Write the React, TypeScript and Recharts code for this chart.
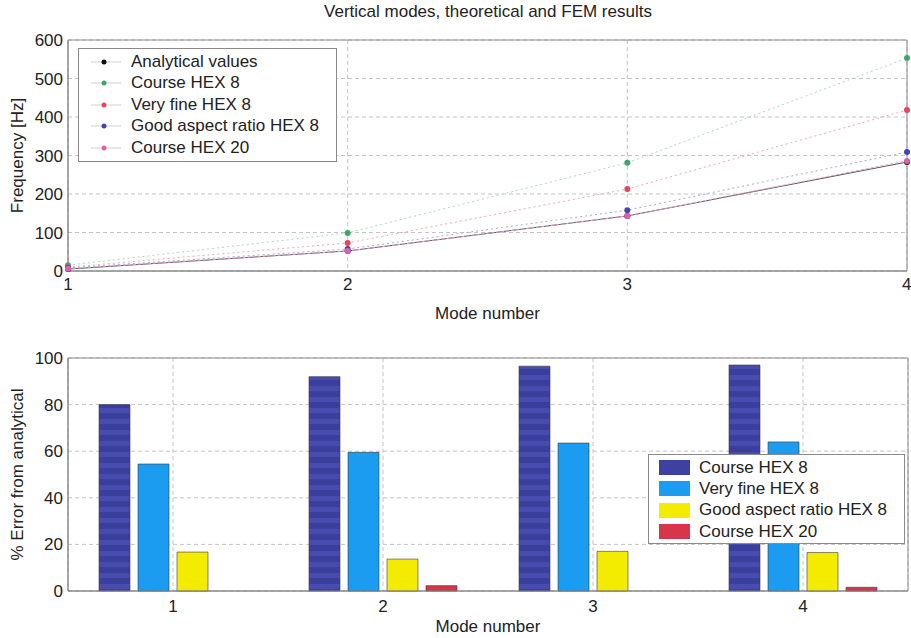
import {
  LineChart,
  Line,
  BarChart,
  Bar,
  XAxis,
  YAxis,
  CartesianGrid,
  Legend,
  ReferenceArea,
} from 'recharts';

const modes = [1, 2, 3, 4];
const modeLabels = ['1', '2', '3', '4'];

// top plot: frequencies in Hz
const analytical = [5, 52, 143, 283];
const courseHex8 = [15, 99, 281, 553];
const veryFineHex8 = [10, 73, 213, 418];
const goodAspectHex8 = [8, 57, 158, 309];
const courseHex20 = [6, 52, 143, 286];

const freqTicks = [0, 100, 200, 300, 400, 500, 600];

// bottom plot: % error from analytical
const courseHex8Err = [80, 92, 96.5, 97];
const veryFineHex8Err = [54.5, 59.5, 63.5, 64];
const goodAspectHex8Err = [16.7, 13.7, 17, 16.5];
const courseHex20Err = [0, 2.3, 0, 1.6];

const errTicks = [0, 20, 40, 60, 80, 100];

const FONT = '"Liberation Sans", Arial, sans-serif';
const FS = 17;
const TEXT = '#222';
const AXIS = '#8a8a8a';
const GRID = '#c4c4c4';

const lineSeries = [
  { key: 'analytical', name: 'Analytical values', dot: '#111', line: '#555', dash: undefined as string | undefined },
  { key: 'course8', name: 'Course HEX 8', dot: '#3aa86b', line: '#a6dcbc', dash: '2 3' },
  { key: 'fine8', name: 'Very fine HEX 8', dot: '#e8465a', line: '#f2a8b0', dash: '2 3' },
  { key: 'good8', name: 'Good aspect ratio HEX 8', dot: '#4545b0', line: '#a8a8dc', dash: '2 3' },
  { key: 'course20', name: 'Course HEX 20', dot: '#e060b0', line: '#e99ad0', dash: '3 2' },
];

const barSeries = [
  { key: 'course8', name: 'Course HEX 8', fill: 'url(#darkStripes)', swatch: '#3d41a0' },
  { key: 'fine8', name: 'Very fine HEX 8', fill: '#1c9cf0', swatch: '#1c9cf0' },
  { key: 'good8', name: 'Good aspect ratio HEX 8', fill: '#f4ec00', swatch: '#f4ec00' },
  { key: 'course20', name: 'Course HEX 20', fill: '#d8344a', swatch: '#d8344a' },
];

const freqData = modes.map((m, i) => ({
  mode: m,
  analytical: analytical[i],
  course8: courseHex8[i],
  fine8: veryFineHex8[i],
  good8: goodAspectHex8[i],
  course20: courseHex20[i],
}));

const errData = modeLabels.map((m, i) => ({
  mode: m,
  course8: courseHex8Err[i],
  fine8: veryFineHex8Err[i],
  good8: goodAspectHex8Err[i],
  course20: courseHex20Err[i],
}));

const tickStyle = { fontSize: FS, fill: TEXT, fontFamily: FONT };

function TopLegend() {
  return (
    <div
      style={{
        width: 259,
        height: 114,
        boxSizing: 'border-box',
        border: `1px solid ${AXIS}`,
        background: '#fff',
        paddingTop: 2,
        fontFamily: FONT,
        fontSize: FS,
        color: TEXT,
      }}
    >
      {lineSeries.map((s) => (
        <div key={s.key} style={{ display: 'flex', alignItems: 'center', height: 21.5 }}>
          <svg width={50} height={10} style={{ flex: 'none' }}>
            <line x1={12} y1={5} x2={42} y2={5} stroke="#d0d0d0" strokeWidth={1} />
            <circle cx={25} cy={5} r={2.5} fill={s.dot} />
          </svg>
          <span style={{ marginLeft: 2, whiteSpace: 'nowrap' }}>{s.name}</span>
        </div>
      ))}
    </div>
  );
}

function BottomLegend() {
  return (
    <div
      style={{
        width: 257,
        height: 90,
        boxSizing: 'border-box',
        border: `1px solid ${AXIS}`,
        background: '#fff',
        paddingTop: 2,
        fontFamily: FONT,
        fontSize: FS,
        color: TEXT,
      }}
    >
      {barSeries.map((s) => (
        <div key={s.key} style={{ display: 'flex', alignItems: 'center', height: 21.3 }}>
          <div
            style={{
              marginLeft: 10,
              width: 31,
              height: 15,
              background: s.swatch,
              flex: 'none',
            }}
          />
          <span style={{ marginLeft: 9, whiteSpace: 'nowrap' }}>{s.name}</span>
        </div>
      ))}
    </div>
  );
}

export default function App() {
  return (
    <div
      style={{
        position: 'absolute',
        left: 0,
        top: 0,
        width: 911,
        height: 638,
        background: '#fff',
        fontFamily: FONT,
        overflow: 'hidden',
      }}
    >
      <div
        style={{
          position: 'absolute',
          top: 2,
          left: 238,
          width: 500,
          textAlign: 'center',
          fontSize: FS,
          color: TEXT,
        }}
      >
        Vertical modes, theoretical and FEM results
      </div>

      <div style={{ position: 'absolute', left: 0, top: 0 }}>
        <LineChart width={911} height={325} data={freqData} margin={{ top: 40, right: 4, left: 0, bottom: 0 }}>
          <CartesianGrid stroke={GRID} strokeDasharray="4 3" />
          <XAxis
            dataKey="mode"
            type="number"
            domain={[1, 4]}
            ticks={modes}
            height={54}
            tickLine={false}
            tickMargin={1}
            stroke={AXIS}
            tick={tickStyle}
            label={{ value: 'Mode number', position: 'insideBottom', offset: 6, style: tickStyle }}
          />
          <YAxis
            type="number"
            domain={[0, 600]}
            ticks={freqTicks}
            width={68}
            tickLine={false}
            tickSize={4}
            tickMargin={1}
            stroke={AXIS}
            tick={tickStyle}
            label={{ value: 'Frequency [Hz]', angle: -90, position: 'center', dx: -17, style: tickStyle }}
          />
          <ReferenceArea y1={0} y2={600} fill="none" stroke={AXIS} strokeWidth={1} />
          {lineSeries.map((s) => (
            <Line
              key={s.key}
              dataKey={s.key}
              name={s.name}
              type="linear"
              stroke={s.line}
              strokeWidth={1}
              strokeDasharray={s.dash}
              dot={{ r: 3, fill: s.dot, stroke: 'none' }}
              isAnimationActive={false}
            />
          ))}
          <Legend
            layout="horizontal"
            verticalAlign="middle"
            align="center"
            wrapperStyle={{ left: 78, top: 48, width: 259 }}
            content={() => <TopLegend />}
          />
        </LineChart>
      </div>

      <div style={{ position: 'absolute', left: 0, top: 325 }}>
        <BarChart
          width={911}
          height={313}
          data={errData}
          margin={{ top: 33, right: 3, left: 0, bottom: 0 }}
          barSize={31}
          barGap={8}
        >
          <defs>
            <pattern id="darkStripes" patternUnits="userSpaceOnUse" width={12} height={11}>
              <rect x={0} y={0} width={12} height={11} fill="#3b3f9c" />
              <rect x={0} y={6} width={12} height={5} fill="#474cae" />
            </pattern>
          </defs>
          <CartesianGrid stroke={GRID} strokeDasharray="4 3" />
          <XAxis
            dataKey="mode"
            height={47}
            tickLine={false}
            tickMargin={3}
            stroke={AXIS}
            tick={tickStyle}
            label={{ value: 'Mode number', position: 'insideBottom', offset: 6, style: tickStyle }}
          />
          <YAxis
            type="number"
            domain={[0, 100]}
            ticks={errTicks}
            width={68}
            tickLine={false}
            tickSize={4}
            tickMargin={1}
            stroke={AXIS}
            tick={tickStyle}
            label={{ value: '% Error from analytical', angle: -90, position: 'center', dx: -17, style: tickStyle }}
          />
          <ReferenceArea y1={0} y2={100} fill="none" stroke={AXIS} strokeWidth={1} />
          {barSeries.map((s) => (
            <Bar
              key={s.key}
              dataKey={s.key}
              name={s.name}
              fill={s.fill}
              stroke="#3a3a3a"
              strokeWidth={0.6}
              isAnimationActive={false}
            />
          ))}
          <Legend
            layout="horizontal"
            verticalAlign="middle"
            align="center"
            wrapperStyle={{ left: 648, top: 129, width: 257 }}
            content={() => <BottomLegend />}
          />
        </BarChart>
      </div>
    </div>
  );
}
